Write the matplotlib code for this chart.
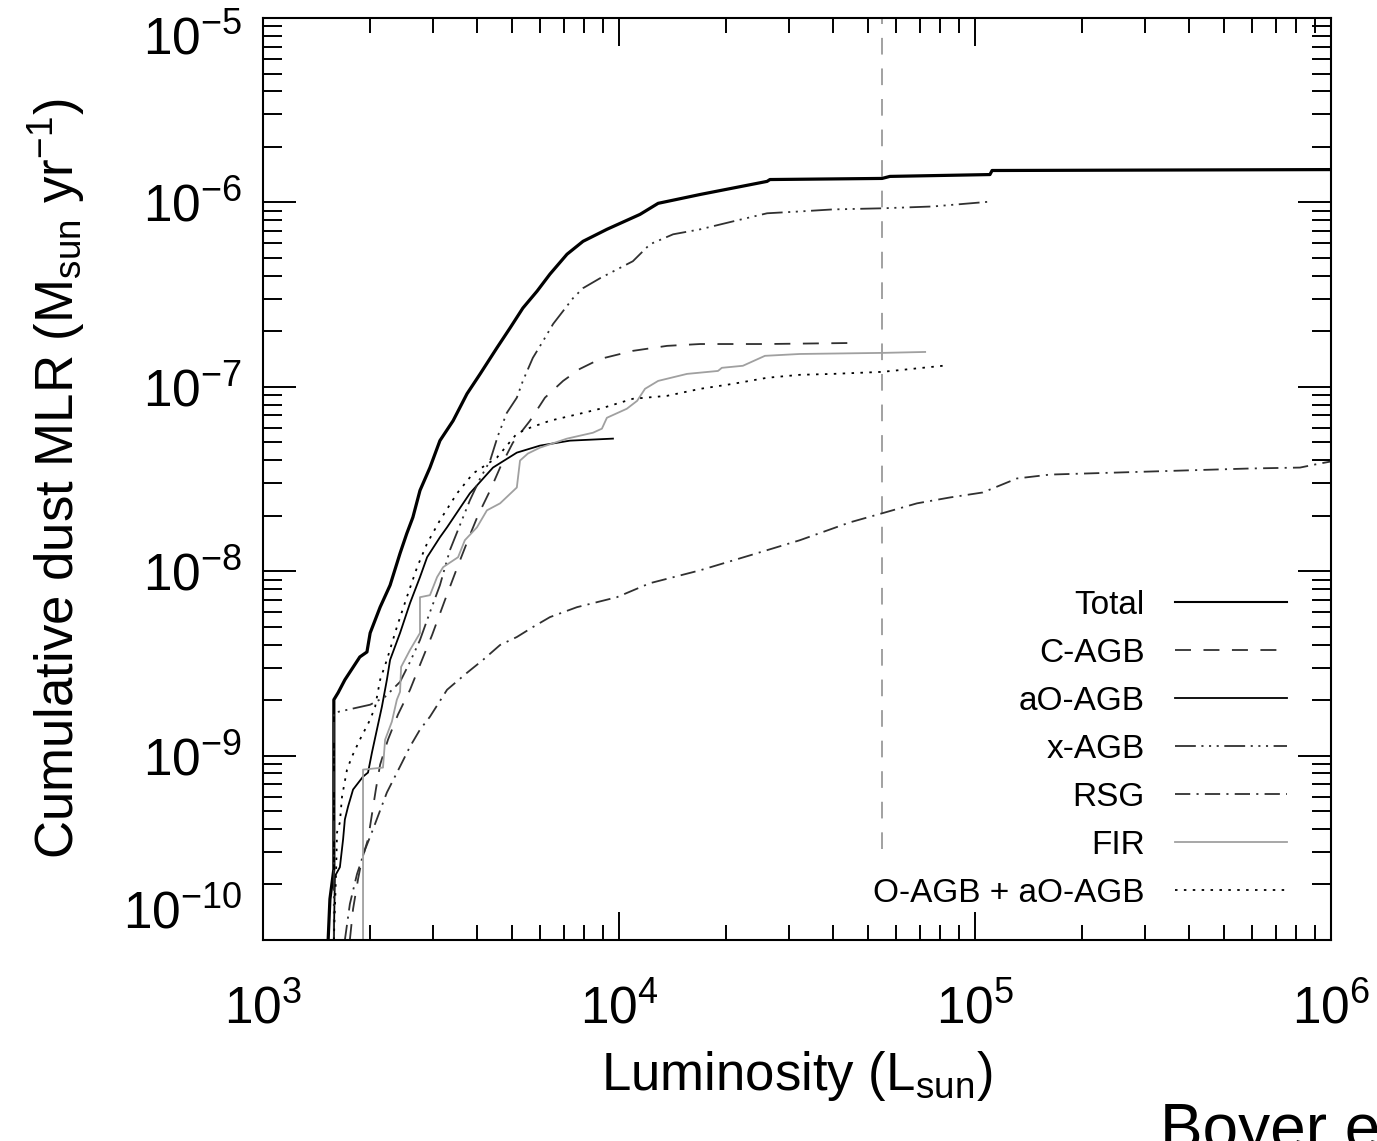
import numpy as np
import matplotlib.pyplot as plt
from matplotlib.ticker import FuncFormatter

# values, stored as log10(L / L_sun) and log10(MLR / M_sun yr^-1)
total_logL = [3.183, 3.188, 3.199, 3.199, 3.211, 3.230, 3.272, 3.292, 3.301, 3.329,
              3.357, 3.385, 3.404, 3.421, 3.441, 3.469, 3.497, 3.534, 3.573, 3.610,
              3.657, 3.694, 3.730, 3.770, 3.806, 3.854, 3.899, 3.966, 4.059, 4.110,
              4.228, 4.416, 4.424, 4.739, 4.761, 5.042, 5.048, 6.000]
total_logM = [-10.0, -9.778, -9.616, -8.697, -8.659, -8.589, -8.465, -8.438, -8.335, -8.195,
              -8.076, -7.903, -7.795, -7.708, -7.562, -7.438, -7.292, -7.184, -7.038, -6.930,
              -6.789, -6.681, -6.573, -6.481, -6.389, -6.281, -6.211, -6.146, -6.065, -6.005,
              -5.957, -5.886, -5.876, -5.870, -5.859, -5.849, -5.827, -5.822]

cagb_logL = [3.244, 3.253, 3.267, 3.278, 3.295, 3.306, 3.317, 3.329, 3.351, 3.379,
             3.413, 3.441, 3.475, 3.511, 3.548, 3.581, 3.604, 3.638, 3.666, 3.702,
             3.750, 3.792, 3.843, 3.890, 3.947, 4.039, 4.135, 4.228, 4.416, 4.669]
cagb_logM = [-10.0, -9.832, -9.670, -9.562, -9.454, -9.319, -9.184, -9.049, -8.914, -8.778,
             -8.643, -8.508, -8.346, -8.157, -7.968, -7.805, -7.697, -7.562, -7.438, -7.303,
             -7.184, -7.059, -6.968, -6.903, -6.849, -6.805, -6.778, -6.768, -6.768, -6.762]

aoagb_logL = [3.199, 3.202, 3.216, 3.225, 3.230, 3.239, 3.253, 3.281, 3.295, 3.306,
              3.320, 3.334, 3.348, 3.357, 3.385, 3.413, 3.441, 3.461, 3.497, 3.517,
              3.581, 3.646, 3.713, 3.778, 3.862, 3.983]
aoagb_logM = [-10.0, -9.654, -9.605, -9.454, -9.346, -9.276, -9.184, -9.114, -9.092, -8.984,
              -8.859, -8.735, -8.589, -8.481, -8.335, -8.173, -8.032, -7.924, -7.816, -7.762,
              -7.578, -7.438, -7.357, -7.319, -7.292, -7.281]

xagb_logL = [3.199, 3.199, 3.301, 3.343, 3.385, 3.413, 3.441, 3.469, 3.497, 3.525,
             3.553, 3.581, 3.610, 3.638, 3.660, 3.685, 3.713, 3.730, 3.758, 3.787,
             3.815, 3.843, 3.871, 3.899, 3.947, 4.039, 4.087, 4.152, 4.228, 4.320,
             4.416, 4.508, 4.601, 4.739, 4.882, 5.048]
xagb_logM = [-10.0, -8.768, -8.724, -8.681, -8.600, -8.492, -8.373, -8.222, -8.076, -7.886,
             -7.751, -7.616, -7.497, -7.400, -7.265, -7.141, -7.059, -6.968, -6.843, -6.751,
             -6.659, -6.589, -6.519, -6.465, -6.411, -6.319, -6.227, -6.173, -6.146, -6.103,
             -6.059, -6.049, -6.038, -6.032, -6.022, -5.995]

rsg_logL = [3.230, 3.244, 3.264, 3.287, 3.309, 3.348, 3.385, 3.413, 3.441, 3.469,
            3.517, 3.573, 3.618, 3.666, 3.713, 3.758, 3.806, 3.882, 3.994, 4.087,
            4.228, 4.368, 4.508, 4.649, 4.739, 4.837, 4.930, 5.022, 5.118, 5.211,
            5.399, 5.584, 5.772, 5.913, 5.969, 6.000]
rsg_logM = [-10.0, -9.805, -9.643, -9.508, -9.400, -9.200, -9.059, -8.951, -8.859, -8.789,
            -8.643, -8.551, -8.481, -8.400, -8.357, -8.303, -8.249, -8.195, -8.141, -8.065,
            -7.995, -7.914, -7.832, -7.735, -7.686, -7.632, -7.600, -7.573, -7.497, -7.476,
            -7.465, -7.454, -7.443, -7.438, -7.416, -7.405]

fir_logL = [3.281, 3.281, 3.337, 3.343, 3.362, 3.376, 3.385, 3.388, 3.413, 3.441,
            3.441, 3.469, 3.489, 3.506, 3.548, 3.567, 3.601, 3.629, 3.666, 3.713,
            3.722, 3.744, 3.778, 3.854, 3.927, 3.952, 3.966, 4.022, 4.051, 4.073,
            4.110, 4.191, 4.278, 4.289, 4.348, 4.410, 4.508, 4.742, 4.860]
fir_logM = [-10.0, -9.076, -9.065, -8.914, -8.816, -8.697, -8.654, -8.519, -8.427, -8.335,
            -8.141, -8.130, -8.032, -7.978, -7.924, -7.832, -7.762, -7.670, -7.632, -7.546,
            -7.400, -7.362, -7.330, -7.281, -7.249, -7.227, -7.168, -7.119, -7.076, -7.011,
            -6.968, -6.930, -6.914, -6.897, -6.886, -6.832, -6.822, -6.816, -6.811]

oagb_logL = [3.199, 3.205, 3.208, 3.216, 3.222, 3.236, 3.250, 3.272, 3.301, 3.315,
             3.329, 3.348, 3.376, 3.404, 3.433, 3.461, 3.497, 3.545, 3.590, 3.657,
             3.713, 3.750, 3.806, 3.890, 3.947, 4.039, 4.135, 4.228, 4.320, 4.416,
             4.508, 4.601, 4.739, 4.910]
oagb_logM = [-10.0, -9.654, -9.416, -9.362, -9.222, -9.076, -9.005, -8.914, -8.805, -8.735,
             -8.589, -8.481, -8.303, -8.141, -7.978, -7.849, -7.724, -7.578, -7.470, -7.384,
             -7.254, -7.222, -7.184, -7.146, -7.119, -7.065, -7.049, -7.011, -6.984, -6.951,
             -6.935, -6.930, -6.919, -6.886]

vline_L = 5.48e4
vline_range = [3.1e-10, 1e-5]

plt.rcParams['font.family'] = ['Liberation Sans', 'DejaVu Sans']
plt.rcParams['mathtext.fontset'] = 'custom'
plt.rcParams['mathtext.rm'] = 'Liberation Sans'
plt.rcParams['mathtext.it'] = 'Liberation Sans:italic'
plt.rcParams['mathtext.bf'] = 'Liberation Sans:bold'
plt.rcParams['mathtext.default'] = 'rm'
plt.rcParams['axes.unicode_minus'] = False
plt.rcParams['lines.scale_dashes'] = False


def curve(ax, logL, logM, **kw):
    ax.plot(10 ** np.array(logL), 10 ** np.array(logM), **kw)


def power_label(v, pos):
    e = int(round(np.log10(v)))
    if e in (-10, -5):
        # end labels are drawn separately, pulled inside like in the original
        return ''
    return r'$10^{%d}$' % e


def main():
    fig = plt.figure(figsize=(13.77, 11.41), dpi=100)
    ax = fig.add_axes([0.19099, 0.17616, 0.77560, 0.80806])

    ax.vlines(vline_L, *vline_range, colors='#9a9a9a', linewidth=1.3,
              linestyles=(0, (12, 10)))

    curve(ax, total_logL, total_logM, color='black', lw=2.3, label='Total')
    curve(ax, cagb_logL, cagb_logM, color='#303030', lw=1.3,
          ls=(0, (11.5, 9)), label='C-AGB')
    curve(ax, aoagb_logL, aoagb_logM, color='black', lw=1.3, label='aO-AGB')
    curve(ax, xagb_logL, xagb_logM, color='#303030', lw=1.3,
          ls=(0, (15, 4, 1.5, 4, 1.5, 4, 1.5, 4)), label='x-AGB')
    curve(ax, rsg_logL, rsg_logM, color='#303030', lw=1.3,
          ls=(0, (11, 4.5, 1.5, 4.5)), label='RSG')
    curve(ax, fir_logL, fir_logM, color='#a0a0a0', lw=1.3, label='FIR')
    curve(ax, oagb_logL, oagb_logM, color='black', lw=1.3,
          ls=(0, (1.8, 4.6)), label='O-AGB + aO-AGB')

    ax.set_xscale('log')
    ax.set_yscale('log')
    ax.set_xlim(1e3, 1e6)
    ax.set_ylim(1e-10, 1e-5)
    ax.yaxis.set_major_formatter(FuncFormatter(power_label))
    ax.annotate(r'$10^{-10}$', xy=(0, 0), xycoords='axes fraction',
                xytext=(-15, 18), textcoords='offset points',
                ha='right', va='center', fontsize=37)
    ax.annotate(r'$10^{-5}$', xy=(0, 1), xycoords='axes fraction',
                xytext=(-15, -16), textcoords='offset points',
                ha='right', va='center', fontsize=37)

    for s in ax.spines.values():
        s.set_linewidth(1.5)
    ax.tick_params(which='both', direction='in', top=True, right=True,
                   width=1.4, labelsize=37)
    ax.tick_params(axis='x', which='major', length=20, pad=32)
    ax.tick_params(axis='x', which='minor', length=10.5)
    ax.tick_params(axis='y', which='major', length=24, pad=15)
    ax.tick_params(axis='y', which='minor', length=13.5)

    ax.set_xlabel(r'Luminosity (L$_{\rm sun}$)', fontsize=38)
    ax.set_ylabel(r'Cumulative dust MLR (M$_{\rm sun}$ yr$^{-1}$)', fontsize=38)
    ax.xaxis.set_label_coords(0.5, -0.118)
    ax.yaxis.set_label_coords(-0.165, 0.5)

    leg = ax.legend(loc='lower right', bbox_to_anchor=(0.9588, 0.034),
                    frameon=False, markerfirst=False, fontsize=24,
                    handlelength=3.36, handletextpad=0.9, labelspacing=0.51,
                    borderpad=0, borderaxespad=0)
    leg.get_lines()[0].set_linewidth(1.5)

    fig.text(1160 / 1377, -0.007, 'Boyer et al.', fontsize=46,
             ha='left', va='baseline')

    fig.savefig('out.png', dpi=100)


if __name__ == '__main__':
    main()
